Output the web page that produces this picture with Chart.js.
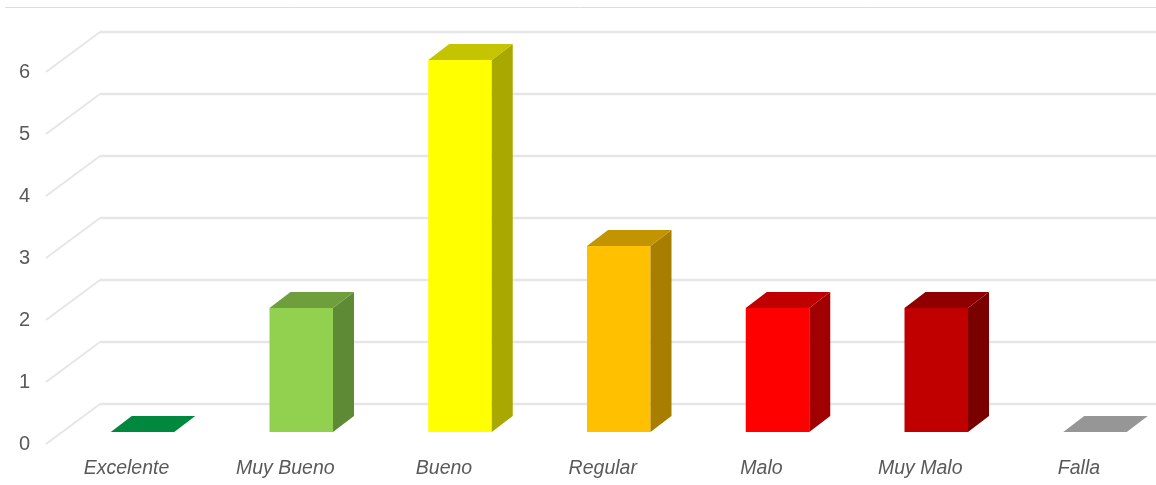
<!DOCTYPE html>
<html>
<head>
<meta charset="utf-8">
<style>html,body{margin:0;padding:0;background:#fff;overflow:hidden}canvas{display:block}</style>
<script src="https://cdn.jsdelivr.net/npm/chart.js@4/dist/chart.umd.min.js"></script>
</head>
<body>
<canvas id="c" width="1156" height="485"></canvas>
<script>
const categories = ["Excelente", "Muy Bueno", "Bueno", "Regular", "Malo", "Muy Malo", "Falla"];
const counts = [0, 2, 6, 3, 2, 2, 0];
const yTicks = [0, 1, 2, 3, 4, 5, 6];
const frontColors = ["#00B050", "#92D050", "#FFFF00", "#FFC000", "#FF0000", "#C00000", "#C4C4C4"];
const topColors = ["#00883E", "#6F9E3D", "#C4C400", "#C49400", "#C00000", "#900000", "#969696"];
const sideColors = ["#007A37", "#5F8A35", "#A8A800", "#A87E00", "#A00000", "#7A0000", "#808080"];

const DEPTH_X = 21, DEPTH_Y = 16;

function poly(ctx, pts, fill) {
  ctx.beginPath();
  pts.forEach((p, i) => i ? ctx.lineTo(p[0], p[1]) : ctx.moveTo(p[0], p[1]));
  ctx.closePath();
  ctx.fillStyle = fill;
  ctx.fill();
}

const wall = {
  id: "wall",
  beforeDatasetsDraw(chart) {
    const ctx = chart.ctx, y = chart.scales.y;
    ctx.save();
    ctx.beginPath();
    ctx.strokeStyle = "#DCDCDC";
    ctx.lineWidth = 1;
    ctx.moveTo(5, 7.5); ctx.lineTo(1156, 7.5);
    ctx.stroke();
    ctx.strokeStyle = "#E6E6E6";
    yTicks.forEach(v => {
      const p = y.getPixelForValue(v);
      ctx.lineWidth = 2;
      ctx.beginPath();
      ctx.moveTo(46, p + 12);
      ctx.lineTo(100, p - 28);
      ctx.stroke();
      ctx.lineWidth = 2.5;
      ctx.beginPath();
      ctx.moveTo(100, p - 28);
      ctx.lineTo(1156, p - 28);
      ctx.stroke();
    });
    ctx.restore();
  },
  afterDatasetsDraw(chart) {
    const ctx = chart.ctx;
    const bars = chart.getDatasetMeta(0).data;
    ctx.save();
    bars.forEach((b, i) => {
      const l = b.x - b.width / 2, r = b.x + b.width / 2, t = b.y, base = b.base;
      if (base - t > 0.5) {
        poly(ctx, [[r, t], [r + DEPTH_X, t - DEPTH_Y], [r + DEPTH_X, base - DEPTH_Y], [r, base]], sideColors[i]);
      }
      poly(ctx, [[l, t], [r, t], [r + DEPTH_X, t - DEPTH_Y], [l + DEPTH_X, t - DEPTH_Y]], topColors[i]);
    });
    ctx.restore();
  }
};

new Chart(document.getElementById("c"), {
  type: "bar",
  data: {
    labels: categories,
    datasets: [{
      data: counts,
      backgroundColor: frontColors,
      borderWidth: 0,
      barPercentage: 63.5 / 158.75,
      categoryPercentage: 1,
      clip: false
    }]
  },
  plugins: [wall],
  options: {
    responsive: false,
    animation: false,
    devicePixelRatio: 1,
    layout: { padding: { top: 60, right: 61, left: 0, bottom: 0 } },
    plugins: { legend: { display: false }, tooltip: { enabled: false } },
    scales: {
      x: {
        offset: false,
        grid: { display: false, drawTicks: false },
        border: { display: false },
        afterFit(s) { s.height = 53; s.paddingLeft = 0; s.paddingRight = 0; },
        ticks: {
          autoSkip: false, maxRotation: 0, minRotation: 0,
          padding: 25, labelOffset: -16, color: "#595959",
          font: { family: "Liberation Sans", size: 19.5, style: "italic" }
        }
      },
      y: {
        min: 0, max: 6,
        grid: { display: false, drawTicks: false },
        border: { display: false },
        afterFit(s) { s.width = 142.5; s.paddingTop = 0; s.paddingBottom = 0; },
        afterBuildTicks(s) { s.ticks = yTicks.map(v => ({ value: v })); },
        ticks: {
          padding: 112.5, labelOffset: 12.5, color: "#595959",
          font: { family: "Liberation Sans", size: 20 }
        }
      }
    }
  }
});
</script>
</body>
</html>
